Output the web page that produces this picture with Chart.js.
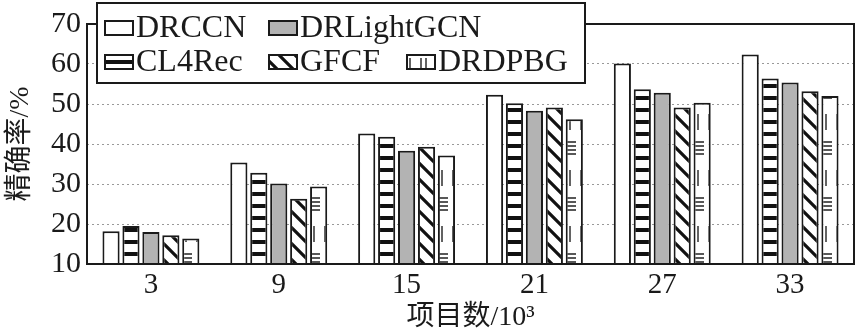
<!DOCTYPE html>
<html>
<head>
<meta charset="utf-8">
<script src="https://cdn.jsdelivr.net/npm/chart.js@4"></script>
<style>
  body { margin: 0; background: #fff; }
  #wrap { width: 859px; height: 334px; }
</style>
</head>
<body>
<div id="wrap"><canvas id="grafico"></canvas></div>
<script>
// dados
const categorias = ['3', '9', '15', '21', '27', '33'];
const DRCCN      = [18.2, 35.4, 42.6, 52.3, 60.1, 62.4];
const CL4Rec     = [19.5, 32.8, 41.8, 50.2, 53.7, 56.4];
const DRLightGCN = [18.0, 30.1, 38.3, 48.3, 52.8, 55.4];
const GFCF       = [17.2, 26.3, 39.3, 49.1, 49.1, 53.2];
const DRDPBG     = [16.4, 29.4, 37.1, 46.2, 50.3, 52.0];
const yTicks     = [10, 20, 30, 40, 50, 60, 70];

const serif = '"Liberation Serif", "Noto Sans CJK SC", serif';

// padrões de preenchimento
function tile(w, h, draw) {
    const c = document.createElement('canvas');
    c.width = w; c.height = h;
    const g = c.getContext('2d');
    g.fillStyle = '#fff';
    g.fillRect(0, 0, w, h);
    draw(g);
    return document.createElement('canvas').getContext('2d').createPattern(c, 'repeat');
}
const padraoHoriz = tile(8, 12, g => {
    g.fillStyle = '#111';
    g.fillRect(0, 0, 8, 4);
});
const padraoDiag = tile(16, 16, g => {
    g.strokeStyle = '#111';
    g.lineWidth = 3.2;
    g.beginPath();
    g.moveTo(-2, -2); g.lineTo(18, 18);
    g.moveTo(-2, 14); g.lineTo(2, 18);
    g.moveTo(14, -2); g.lineTo(18, 2);
    g.stroke();
});
const padraoTraco = tile(16, 56, g => {
    g.strokeStyle = '#222';
    g.lineWidth = 1.4;
    g.beginPath();
    g.moveTo(5, 2); g.lineTo(5, 18);
    g.moveTo(10, 2); g.lineTo(10, 18);
    for (let y = 30; y <= 42; y += 4) { g.moveTo(7, y); g.lineTo(16, y); }
    g.stroke();
});

const series = [
    { label: 'DRCCN', data: DRCCN, backgroundColor: '#ffffff' },
    { label: 'CL4Rec', data: CL4Rec, backgroundColor: padraoHoriz },
    { label: 'DRLightGCN', data: DRLightGCN, backgroundColor: '#b3b3b3' },
    { label: 'GFCF', data: GFCF, backgroundColor: padraoDiag },
    { label: 'DRDPBG', data: DRDPBG, backgroundColor: padraoTraco },
];

// moldura + legenda desenhadas à mão
const molduraLegenda = {
    id: 'molduraLegenda',
    afterDraw(chart) {
        const { ctx, chartArea: a } = chart;
        ctx.save();
        ctx.strokeStyle = '#1a1a1a';
        ctx.lineWidth = 2;
        ctx.strokeRect(a.left, a.top, a.right - a.left, a.bottom - a.top);

        // caixa da legenda
        ctx.fillStyle = '#fff';
        ctx.fillRect(97, 3, 488, 80);
        ctx.strokeRect(97, 3, 488, 80);

        const itens = [
            { i: 0, x: 105, y: 28 },
            { i: 2, x: 269, y: 28 },
            { i: 1, x: 105, y: 62 },
            { i: 3, x: 269, y: 62 },
            { i: 4, x: 407, y: 62 },
        ];
        ctx.font = '32px ' + serif;
        ctx.textBaseline = 'middle';
        itens.forEach(it => {
            const ds = chart.data.datasets[it.i];
            ctx.fillStyle = ds.backgroundColor;
            ctx.fillRect(it.x, it.y - 7, 28, 14);
            ctx.lineWidth = 2;
            ctx.strokeRect(it.x, it.y - 7, 28, 14);
            ctx.fillStyle = '#1a1a1a';
            ctx.fillText(ds.label, it.x + 31, it.y + 1);
        });
        ctx.restore();
    }
};

new Chart(document.getElementById('grafico').getContext('2d'), {
    type: 'bar',
    data: {
        labels: categorias,
        datasets: series.map(s => ({
            ...s,
            borderColor: '#1a1a1a',
            borderWidth: 2,
            categoryPercentage: 0.78,
            barPercentage: 0.86,
        }))
    },
    options: {
        responsive: true,
        maintainAspectRatio: false,
        animation: false,
        layout: { padding: { left: 4, right: 5, top: 17, bottom: 0 } },
        plugins: { legend: { display: false }, tooltip: { enabled: false } },
        scales: {
            x: {
                grid: { display: false, drawTicks: false },
                border: { display: false },
                ticks: { color: '#1a1a1a', padding: 4, font: { family: serif, size: 29 } },
                title: {
                    display: true, text: '项目数/10³', color: '#1a1a1a',
                    padding: { top: 0, bottom: 0 },
                    font: { family: serif, size: 28 }
                },
                afterFit(scale) { scale.height = 70; }
            },
            y: {
                min: 10, max: 70,
                afterBuildTicks(scale) { scale.ticks = yTicks.map(v => ({ value: v })); },
                grid: { color: '#999', lineWidth: 1, drawTicks: false },
                border: { display: false, dash: [2, 3] },
                ticks: { color: '#1a1a1a', padding: 6, font: { family: serif, size: 30 } },
                title: {
                    display: true, text: '精确率/%', color: '#1a1a1a',
                    padding: { top: 0, bottom: 4 },
                    font: { family: serif, size: 28 }
                },
                afterFit(scale) { scale.width = 83; }
            }
        }
    },
    plugins: [molduraLegenda]
});
</script>
</body>
</html>
